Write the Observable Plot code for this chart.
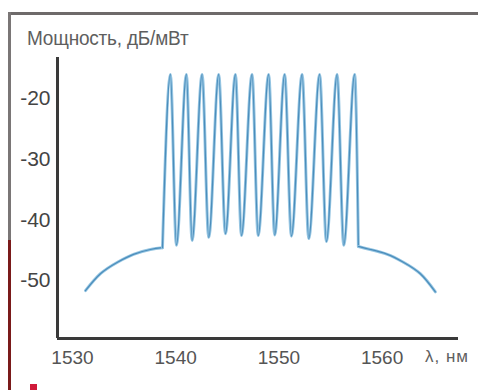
<!DOCTYPE html>
<html><head><meta charset="utf-8">
<script src="https://cdn.jsdelivr.net/npm/d3@7"></script>
<script src="https://cdn.jsdelivr.net/npm/@observablehq/plot@0.6"></script>
<style>
body{margin:0;background:#fff;}
#wrap{position:relative;width:478px;height:390px;overflow:hidden;font-family:"Liberation Sans",Arial,sans-serif;}
#chart{position:absolute;left:0;top:0;}
.title{position:absolute;left:27px;top:27px;font-size:19px;line-height:19px;color:#5e5e5e;white-space:nowrap;letter-spacing:-0.2px;transform:scaleY(1.1);transform-origin:left top;}
.xlab{position:absolute;left:425px;top:348px;font-size:17px;line-height:17px;color:#5e5e5e;white-space:nowrap;letter-spacing:1px;}
.bt{position:absolute;left:8px;top:12px;width:470px;height:3px;background:#6e6a6a;}
.bl{position:absolute;left:8px;top:12px;width:3px;height:228px;background:#7a7676;}
.br{position:absolute;left:8px;top:240px;width:3px;height:150px;background:#7a1a1a;}
.mk{position:absolute;left:30px;top:384px;width:7px;height:6px;background:#d01a3a;}
</style></head><body>
<div id="wrap">
  <div id="chart"></div>
  <div class="title">Мощность, дБ/мВт</div>
  <div class="xlab">λ, нм</div>
  <div class="bt"></div><div class="bl"></div><div class="br"></div><div class="mk"></div>
</div>
<script>
// left wing (ASE shoulder), comb of channels, right wing
const leftWavelength = [1531.26, 1532.71, 1534.36, 1535.91, 1537.55, 1538.72];
const leftPower = [-51.7, -48.9, -47.0, -45.7, -44.9, -44.6];
const combWavelength = [1538.72,
  1539.49, 1540.07, 1541.04, 1541.59, 1542.56, 1543.20, 1544.17, 1544.82, 1545.79, 1546.37,
  1547.40, 1547.99, 1549.01, 1549.59, 1550.56, 1551.21, 1552.25, 1552.89, 1553.95, 1554.60,
  1555.64, 1556.28, 1557.34, 1557.70];
const combPower = [-44.6,
  -16.0, -44.2, -16.0, -43.4, -16.0, -42.9, -16.0, -42.3, -16.0, -42.6,
  -16.0, -42.6, -16.0, -42.5, -16.0, -42.7, -16.0, -43.1, -16.0, -43.6,
  -16.0, -44.2, -16.0, -44.4];
const rightWavelength = [1557.70, 1558.86, 1560.51, 1562.06, 1563.70, 1565.16];
const rightPower = [-44.4, -44.9, -45.7, -47.0, -48.9, -51.9];
const xTicks = [1530, 1540, 1550, 1560];
const yTicks = [-20, -30, -40, -50];
const xDomain = [1528.55, 1567.4];
const yDomain = [-59.6, -13.2];

const toRows = (ws, ps) => ws.map((w, i) => ({w, p: ps[i]}));
const left = toRows(leftWavelength, leftPower);
const comb = toRows(combWavelength, combPower);
const right = toRows(rightWavelength, rightPower);

const lineMarks = (rows, curve) => [
  Plot.line(rows, {x: "w", y: "p", curve, stroke: "#95c5e2", strokeWidth: 3}),
  Plot.line(rows, {x: "w", y: "p", curve, stroke: "#4b8dbb", strokeWidth: 1.2})
];

const chart = Plot.plot({
  width: 478, height: 390,
  marginLeft: 57, marginRight: 20, marginTop: 57, marginBottom: 52,
  x: {domain: xDomain},
  y: {domain: yDomain},
  style: {background: "transparent", fontFamily: "'Liberation Sans', Arial, sans-serif"},
  marks: [
    Plot.axisX(xTicks, {tickSize: 0, tickPadding: 12, fontSize: 19, fill: "#555", label: null, tickFormat: d => String(d)}),
    Plot.axisY(yTicks, {tickSize: 0, tickPadding: 7, fontSize: 21, fill: "#444", label: null, tickFormat: d => String(d)}),
    Plot.ruleX([xDomain[0]], {stroke: "#3a3a3a", strokeWidth: 3}),
    Plot.ruleY([yDomain[0]], {stroke: "#3a3a3a", strokeWidth: 3}),
    ...lineMarks(left, "natural"),
    ...lineMarks(comb, "monotone-x"),
    ...lineMarks(right, "natural")
  ]
});
document.getElementById("chart").appendChild(chart);
</script>
</body></html>
